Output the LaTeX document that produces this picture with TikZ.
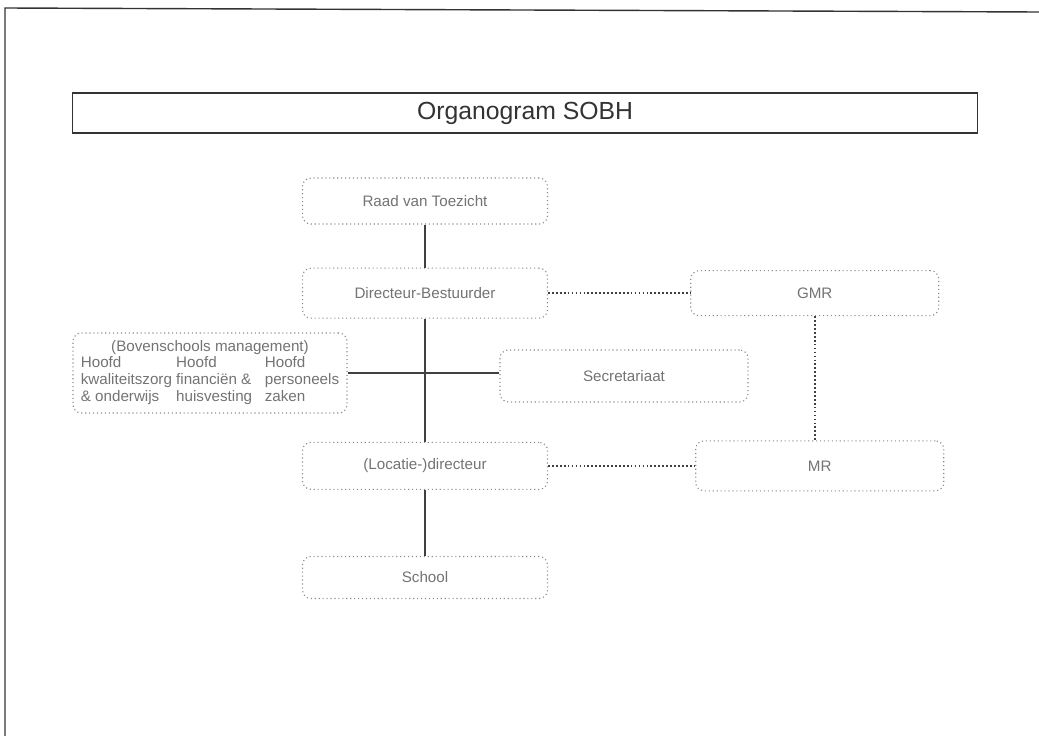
\documentclass[tikz,border=0pt]{standalone}
\usepackage{fontspec}
\setmainfont{Liberation Sans}
\usetikzlibrary{positioning}

\begin{document}
\begin{tikzpicture}[
				x=0.025cm, y=-0.025cm,
				node distance=1cm,
				orgbox/.style={
					rectangle,
					draw=black!45,
					dotted,
					line width=0.8pt,
					text=black!55,
					minimum width=6.125cm,
					minimum height=1.2cm,
					rounded corners=6pt,
					inner sep=2pt,
					font=\fontsize{10.8}{12}\selectfont
				},
				link/.style={
					draw=black!75,
					line width=0.9pt
				},
				advies/.style={
					draw=black!75,
					line width=1.1pt,
					dash pattern=on 1.2pt off 1.6pt
				}
				]
				
				\useasboundingbox (0,0) rectangle (1039,736);
				
				% Page frame of the scan
				\coordinate (pagetop) at (5,8);
				\coordinate (pageright) at (1039,12);
				\coordinate (pagebottom) at (5,736);
				\draw[black!80, line width=1pt] (pagebottom) -- (pagetop) -- (pageright);
				
				% Title
				\node[draw=black!80, line width=0.8pt, minimum width=22.6cm, minimum height=1cm,
					text=black!80, font=\fontsize{17.6}{20}\selectfont] (title) at (525,113) {Organogram SOBH};
				
				% Block 1: Raad van Toezicht
				\node[orgbox, minimum height=1.15cm] (raad) at (425,201) {Raad van Toezicht};
				
				% Block 2: Directeur-Bestuurder
				\node[orgbox, minimum height=1.25cm, below=1.075cm of raad] (directeur) {Directeur-Bestuurder};
				
				\draw[link] (raad.south) -- (directeur.north);
				
				% Block 3: GMR (right of directeur)
				\node[orgbox, minimum width=6.2cm, minimum height=1.125cm, right=3.55cm of directeur] (gmr) {GMR};
				
				\draw[advies] (directeur.east) -- (gmr.west);
				
				% Block 4: Bovenschools management
				\node[orgbox, minimum width=6.85cm, minimum height=2cm] (bovenschools) at (210,373) {%
					\begin{tabular}{@{}l@{\hspace{3pt}}l@{\hspace{9pt}}l@{}}
						\multicolumn{3}{c}{(Bovenschools management)}\\
						Hoofd & Hoofd & Hoofd\\
						kwaliteitszorg & financiën \& & personeels\\
						\& onderwijs & huisvesting & zaken
					\end{tabular}};
				
				% Block 5: Secretariaat
				\node[orgbox, minimum width=6.2cm, minimum height=1.3cm] (secretariaat) at (624,376) {Secretariaat};
				
				\draw[link] (bovenschools.east) -- (bovenschools.east -| secretariaat.west);
				
				% Block 6: Locatie-directeur
				\node[orgbox, minimum height=1.175cm, below=3.075cm of directeur] (locatie) {(Locatie-)directeur};
				
				\draw[link] (directeur.south) -- (locatie.north);
				
				% Block 7: MR (right of locatie)
				\node[orgbox, minimum width=6.2cm, minimum height=1.25cm, right=3.675cm of locatie] (mr) {MR};
				
				\draw[advies] (locatie.east) -- (mr.west);
				\draw[advies] (gmr.south) -- (gmr.south |- mr.north);
				
				% Block 8: Scholen
				\node[orgbox, minimum height=1.05cm, below=1.65cm of locatie] (school) {School};
				
				\draw[link] (locatie.south) -- (school.north);
				
			\end{tikzpicture}
\end{document}
